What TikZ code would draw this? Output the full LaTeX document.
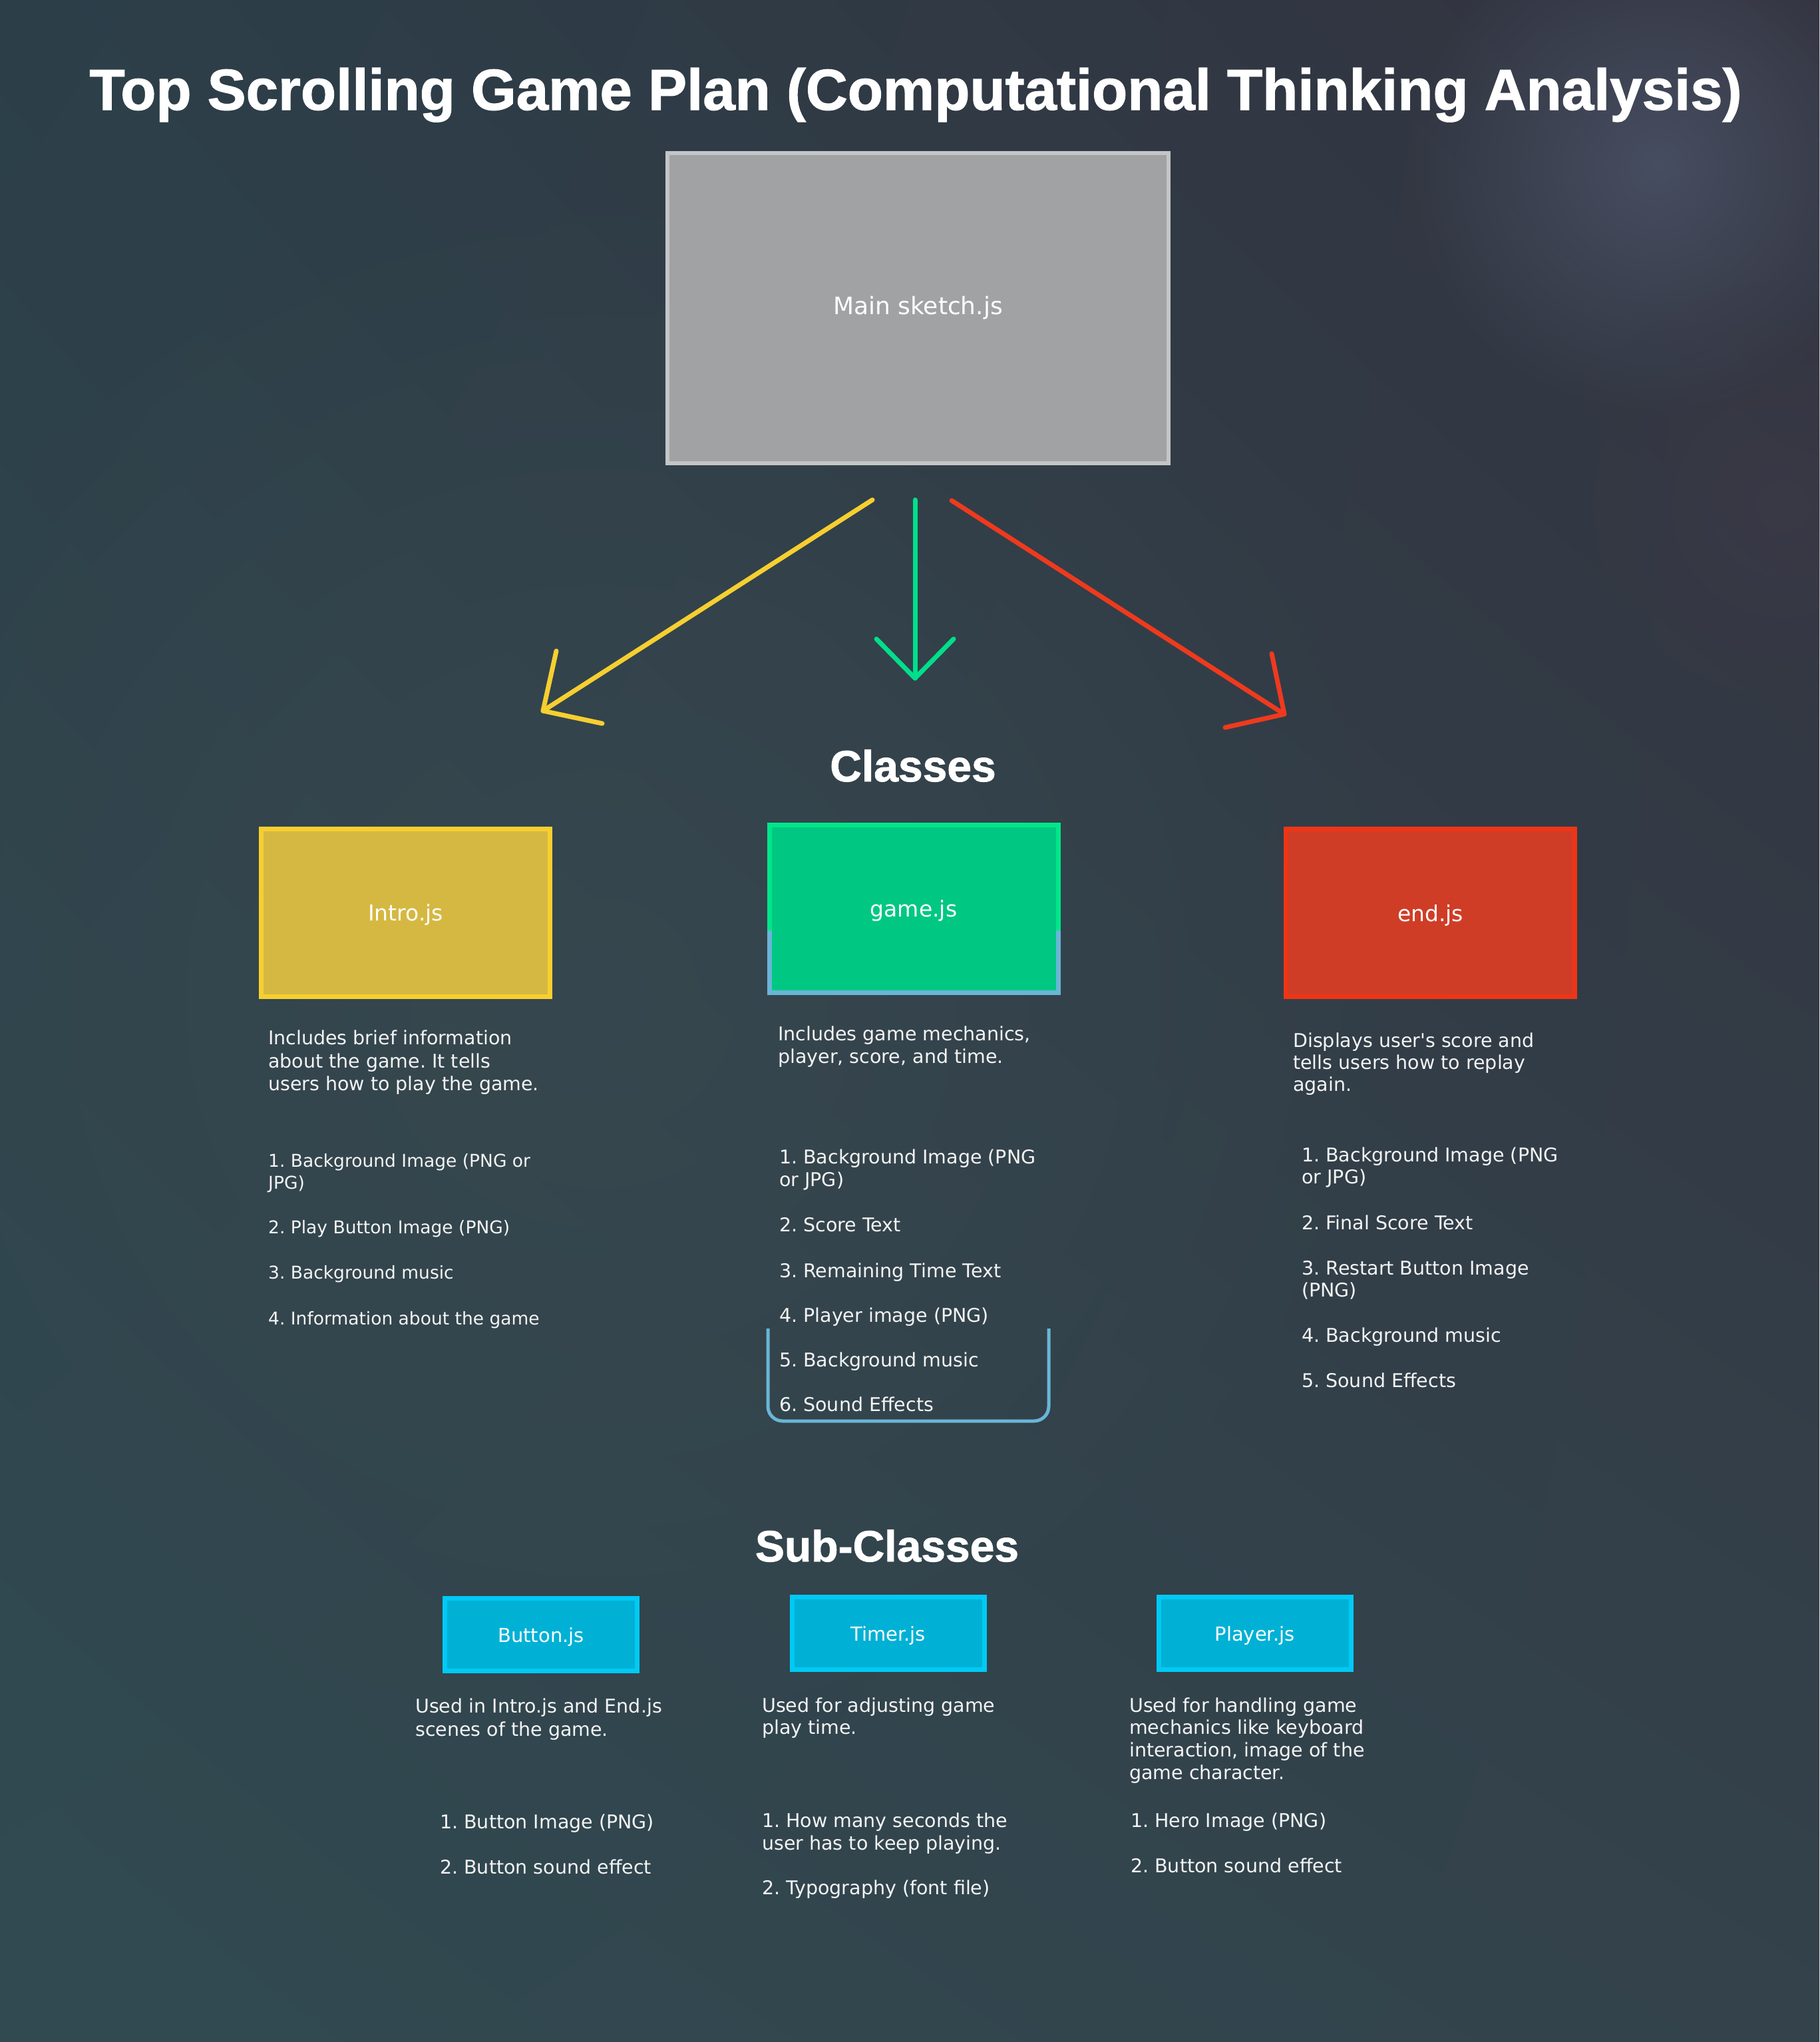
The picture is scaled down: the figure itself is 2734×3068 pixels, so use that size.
\documentclass[tikz,border=0pt]{standalone}
\usepackage{fontspec}
\setmainfont{DejaVu Sans}
\newfontfamily\headfont[FakeBold=1.3]{Liberation Sans Bold}
\usetikzlibrary{fadings,calc,shadings}
\frenchspacing
\definecolor{bgTL}{HTML}{2C3F49}
\definecolor{bgTR}{HTML}{33333F}
\definecolor{bgBL}{HTML}{314A51}
\definecolor{bgBR}{HTML}{33424B}
\definecolor{bgMid}{HTML}{38484F}
\definecolor{glowc}{HTML}{4A5266}
\definecolor{glowr}{HTML}{403C4A}
\definecolor{txtc}{HTML}{F4F4F4}
\definecolor{mainfill}{HTML}{A0A2A4}
\definecolor{maindraw}{HTML}{C4C5C7}
\definecolor{yfill}{HTML}{D5B842}
\definecolor{ydraw}{HTML}{F7CF2F}
\definecolor{gfill}{HTML}{00C882}
\definecolor{gdraw}{HTML}{00E68A}
\definecolor{bluel}{HTML}{6AB5D7}
\definecolor{rfill}{HTML}{CF3D27}
\definecolor{rdraw}{HTML}{EE3517}
\definecolor{cfill}{HTML}{00B1D5}
\definecolor{cdraw}{HTML}{00CAF5}
\definecolor{yarrow}{HTML}{F6CF30}
\definecolor{garrow}{HTML}{00DF8B}
\definecolor{rarrow}{HTML}{EE3A1E}
\tikzfading[name=softglow, inner color=transparent!15, outer color=transparent!100]
\tikzfading[name=faintglow, inner color=transparent!55, outer color=transparent!100]
\newcommand\bline[4]{\node[bodytxt] (#1) at (#2,#3) {#4};}
\newcommand\sline[4]{\node[bodytxt, font=\fontsize{26.5}{32}\selectfont] (#1) at (#2,#3) {#4};}
\begin{document}
\begin{tikzpicture}[x=1pt,y=-1pt,
  bodytxt/.style={text=txtc, font=\fontsize{28.5}{34}\selectfont, inner sep=0pt, anchor=base west},
  boxbase/.style={rectangle, inner sep=0pt, outer sep=0pt, text=white, text depth=0pt},
  mainbox/.style={rectangle, inner sep=0pt, outer sep=0pt, text=white, fill=mainfill, draw=maindraw, line width=6pt, font=\fontsize{36}{40}\selectfont},
  classbox/.style={boxbase, line width=7pt, font=\fontsize{33}{38}\selectfont, minimum width=434pt, minimum height=252pt},
  subbox/.style={boxbase, fill=cfill, draw=cdraw, line width=7pt, font=\fontsize{29}{34}\selectfont, minimum width=289pt, minimum height=109pt},
  heading/.style={text=white, inner sep=0pt, anchor=base, font=\headfont\fontsize{66}{76}\selectfont},
  arrowline/.style={line width=7pt, line cap=round, line join=round}
]
% background
\useasboundingbox (0,0) rectangle (2734,3068);
\shade[upper left=bgTL, upper right=bgTR, lower left=bgBL, lower right=bgBR] (0,0) rectangle (2734,3068);
\fill[bgMid, path fading=softglow] (900,1500) circle (1300);
\fill[glowc, path fading=softglow] (2490,250) circle (380);
\fill[glowr, path fading=faintglow] (2680,760) circle (340);

% title
\node[text=white, inner sep=0pt, anchor=base, font=\headfont\fontsize{87}{100}\selectfont] (title) at (1376,165) {Top Scrolling Game Plan (Computational Thinking Analysis)};

% main box
\node[mainbox, minimum width=753pt, minimum height=466pt] (main) at (1379.5,463) {Main sketch.js};

% arrows
\coordinate (ys) at (1311,751);
\coordinate (yt) at (816,1068);
\coordinate (yh1) at (836,978);
\coordinate (yh2) at (905,1087);
\coordinate (gs) at (1375,751);
\coordinate (gt) at (1375,1019);
\coordinate (gh1) at (1317,960);
\coordinate (gh2) at (1433,960);
\coordinate (rs) at (1430,752);
\coordinate (rt) at (1930,1073);
\coordinate (rh1) at (1911,982);
\coordinate (rh2) at (1841,1093);
\draw[arrowline, yarrow] (ys) -- (yt);
\draw[arrowline, yarrow] (yh1) -- (yt) -- (yh2);
\draw[arrowline, garrow] (gs) -- (gt);
\draw[arrowline, garrow] (gh1) -- (gt) -- (gh2);
\draw[arrowline, rarrow] (rs) -- (rt);
\draw[arrowline, rarrow] (rh1) -- (rt) -- (rh2);

% Classes
\node[heading] (classes) at (1372,1174) {Classes};
\node[classbox, fill=yfill, draw=ydraw] (intro) at (609.5,1371) {Intro.js};
\node[classbox, fill=gfill, draw=gdraw] (game) at (1373,1365) {game.js};
\node[classbox, fill=rfill, draw=rdraw] (endjs) at (2149.5,1371.5) {end.js};
\draw[bluel, line width=7pt] ($(game.north west)+(0,159)$) -- (game.south west) -- (game.south east) -- ($(game.north east)+(0,159)$);

% intro text
\bline{i1}{403}{1569}{Includes brief information}
\bline{i2}{403}{1604}{about the game. It tells}
\bline{i3}{403}{1638}{users how to play the game.}
\sline{i4}{403}{1753}{1. Background Image (PNG or}
\sline{i5}{403}{1786}{JPG)}
\sline{i6}{403}{1853}{2. Play Button Image (PNG)}
\sline{i7}{403}{1921}{3. Background music}
\sline{i8}{403}{1990}{4. Information about the game}

% game text
\bline{g1}{1169}{1563}{Includes game mechanics,}
\bline{g2}{1169}{1597}{player, score, and time.}
\bline{g3}{1171}{1748}{1. Background Image (PNG}
\bline{g4}{1171}{1782}{or JPG)}
\bline{g5}{1171}{1850}{2. Score Text}
\bline{g6}{1171}{1919}{3. Remaining Time Text}
\bline{g7}{1171}{1986}{4. Player image (PNG)}
\bline{g8}{1171}{2053}{5. Background music}
\bline{g9}{1171}{2120}{6. Sound Effects}
\coordinate (bk1) at (1154,1996);
\coordinate (bk2) at (1154,2135);
\coordinate (bk3) at (1576,2135);
\coordinate (bk4) at (1576,1996);
\draw[bluel, line width=5pt, rounded corners=22pt] (bk1) -- (bk2) -- (bk3) -- (bk4);

% end text
\bline{e1}{1943}{1573}{Displays user\textquotesingle s score and}
\bline{e2}{1943}{1606}{tells users how to replay}
\bline{e3}{1943}{1639}{again.}
\bline{e4}{1956}{1745}{1. Background Image (PNG}
\bline{e5}{1956}{1778}{or JPG)}
\bline{e6}{1956}{1847}{2. Final Score Text}
\bline{e7}{1956}{1915}{3. Restart Button Image}
\bline{e8}{1956}{1948}{(PNG)}
\bline{e9}{1956}{2016}{4. Background music}
\bline{e10}{1956}{2084}{5. Sound Effects}

% Sub-Classes
\node[heading] (subclasses) at (1333,2346) {Sub-Classes};
\node[subbox] (button) at (813,2456) {Button.js};
\node[subbox] (timer) at (1334.5,2454) {Timer.js};
\node[subbox] (player) at (1885.5,2454) {Player.js};

\bline{b1}{624}{2573}{Used in Intro.js and End.js}
\bline{b2}{624}{2608}{scenes of the game.}
\bline{b3}{661}{2747}{1. Button Image (PNG)}
\bline{b4}{661}{2815}{2. Button sound effect}

\bline{t1}{1145}{2572}{Used for adjusting game}
\bline{t2}{1145}{2605}{play time.}
\bline{t3}{1145}{2745}{1. How many seconds the}
\bline{t4}{1145}{2779}{user has to keep playing.}
\bline{t5}{1145}{2846}{2. Typography (font file)}

\bline{p1}{1697}{2572}{Used for handling game}
\bline{p2}{1697}{2605}{mechanics like keyboard}
\bline{p3}{1697}{2639}{interaction, image of the}
\bline{p4}{1697}{2673}{game character.}
\bline{p5}{1699}{2745}{1. Hero Image (PNG)}
\bline{p6}{1699}{2813}{2. Button sound effect}
\end{tikzpicture}
\end{document}
